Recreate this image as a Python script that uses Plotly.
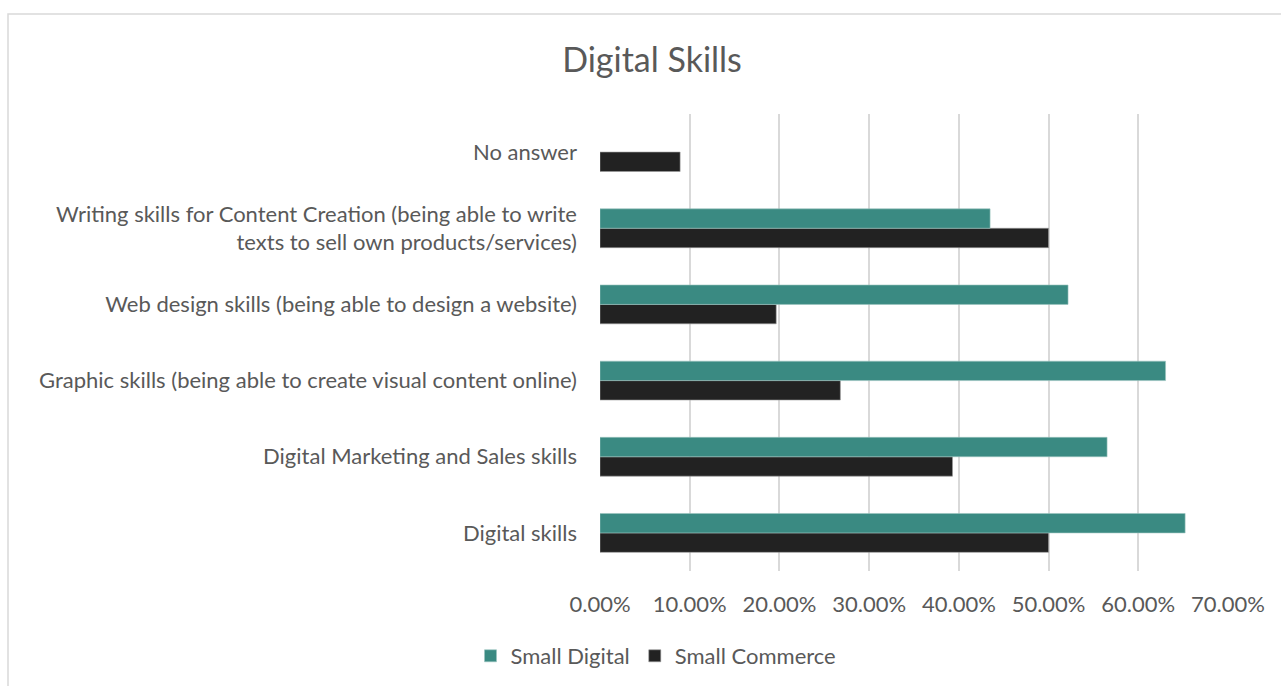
import plotly.graph_objects as go

categories = [
    "Digital skills",
    "Digital Marketing and Sales skills",
    "Graphic skills (being able to create visual content online)",
    "Web design skills (being able to design a website)",
    "Writing skills for Content Creation (being able to write<br>texts to sell own products/services)",
    "No answer",
]
small_digital = [0.6522, 0.5652, 0.6304, 0.5217, 0.4348, None]
small_commerce = [0.5000, 0.3929, 0.2679, 0.1964, 0.5000, 0.0893]
tick_vals = [0, 0.1, 0.2, 0.3, 0.4, 0.5, 0.6, 0.7]

W, H = 1281, 686
L, R, T, B = 600, 53, 114, 115
pw, ph = W - L - R, H - T - B

def px_x(p):
    return (p - L) / pw

def px_y(p):
    return (H - B - p) / ph

text_color = "#595959"
font_family = "Lato, 'Open Sans', sans-serif"

fig = go.Figure()
fig.add_trace(go.Bar(
    y=categories, x=small_commerce, orientation="h", name="Small Commerce",
    marker=dict(color="#222222", line=dict(color="#9a9a9a", width=0.6)),
))
fig.add_trace(go.Bar(
    y=categories, x=small_digital, orientation="h", name="Small Digital",
    marker=dict(color="#3a8a82", line=dict(color="#9cc4bf", width=0.6)),
))

fig.update_layout(
    width=W, height=H,
    margin=dict(l=L, r=R, t=T, b=B, autoexpand=False),
    paper_bgcolor="white", plot_bgcolor="white",
    barmode="group", bargap=0.49, bargroupgap=0,
    font=dict(family=font_family, size=22, color=text_color),
    title=dict(text="Digital Skills", x=652 / W, y=1 - 60 / H,
               xref="container", yref="container",
               xanchor="center", yanchor="middle",
               font=dict(size=34, color=text_color)),
    legend=dict(orientation="h", x=px_x(656), y=px_y(656),
                xanchor="center", yanchor="middle",
                traceorder="reversed", font=dict(size=22, color=text_color),
                itemwidth=30),
    showlegend=True,
)
fig.update_xaxes(
    range=[0, 0.7], tickvals=tick_vals, tickformat=".2%",
    showgrid=True, gridcolor="#d9d9d9", gridwidth=1.5,
    zeroline=False, showline=False, ticks="",
    ticklabelstandoff=18, fixedrange=True,
)
fig.update_yaxes(
    categoryorder="array", categoryarray=categories,
    showgrid=False, zeroline=False, showline=False, ticks="",
    ticklabelstandoff=22, fixedrange=True,
)
fig.add_shape(type="rect", xref="paper", yref="paper",
              x0=px_x(8), x1=px_x(W + 10), y0=px_y(H + 10), y1=px_y(14),
              line=dict(color="#d9d9d9", width=1.5), fillcolor="rgba(0,0,0,0)",
              layer="below")

fig.write_html("out.html")
